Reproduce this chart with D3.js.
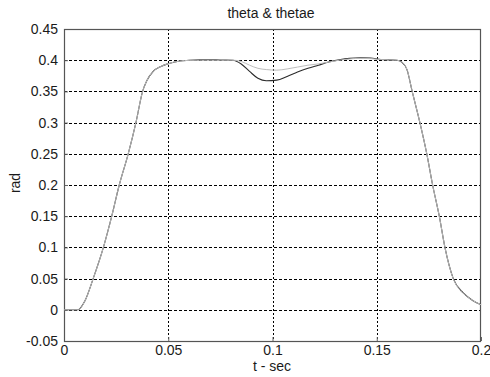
<!DOCTYPE html>
<html><head><meta charset="utf-8">
<script src="https://cdn.jsdelivr.net/npm/d3@7"></script>
<style>body{margin:0;background:#fff}text{font-family:"Liberation Sans",Arial,sans-serif;fill:#1a1a1a}</style>
</head><body><svg id="c" width="490" height="377"></svg>
<script>
const title = "theta & thetae";
const xLabel = "t - sec";
const yLabel = "rad";
const xTicks = [0, 0.05, 0.1, 0.15, 0.2];
const xTickLabels = ["0", "0.05", "0.1", "0.15", "0.2"];
const yTicks = [-0.05, 0, 0.05, 0.1, 0.15, 0.2, 0.25, 0.3, 0.35, 0.4, 0.45];
const yTickLabels = ["-0.05", "0", "0.05", "0.1", "0.15", "0.2", "0.25", "0.3", "0.35", "0.4", "0.45"];
const tValues = [0.0067, 0.0100, 0.0140, 0.0189, 0.0229, 0.0265, 0.0308, 0.0345, 0.0377, 0.0397, 0.0428, 0.0465, 0.0496, 0.0556, 0.060, 0.065, 0.070, 0.075, 0.081, 0.085, 0.089, 0.093, 0.097, 0.102, 0.107, 0.112, 0.117, 0.122, 0.127, 0.132, 0.137, 0.142, 0.147, 0.152, 0.1596, 0.162, 0.1645, 0.167, 0.1707, 0.174, 0.1768, 0.180, 0.1827, 0.1867, 0.1915, 0.196, 0.200];
const theta = [0, 0.014, 0.05, 0.10, 0.15, 0.20, 0.25, 0.30, 0.35, 0.367, 0.382, 0.390, 0.394, 0.3987, 0.3997, 0.4005, 0.4008, 0.4003, 0.400, 0.394, 0.382, 0.371, 0.367, 0.368, 0.374, 0.381, 0.387, 0.392, 0.397, 0.4005, 0.403, 0.404, 0.4035, 0.401, 0.400, 0.397, 0.385, 0.35, 0.30, 0.25, 0.20, 0.15, 0.10, 0.05, 0.027, 0.015, 0.008];
const thetae = [0, 0.014, 0.05, 0.10, 0.15, 0.20, 0.25, 0.30, 0.35, 0.367, 0.382, 0.390, 0.394, 0.3987, 0.3997, 0.400, 0.400, 0.400, 0.400, 0.398, 0.392, 0.387, 0.385, 0.384, 0.386, 0.389, 0.392, 0.394, 0.397, 0.400, 0.402, 0.403, 0.4025, 0.401, 0.400, 0.397, 0.385, 0.35, 0.30, 0.25, 0.20, 0.15, 0.10, 0.05, 0.027, 0.015, 0.008];
const tStart = [0, 0.0067];

const svg = d3.select("#c");
const m = {l: 64, r: 481, t: 29, b: 341};
const x = d3.scaleLinear().domain([0, 0.2]).range([m.l, m.r]);
const y = d3.scaleLinear().domain([-0.05, 0.45]).range([m.b, m.t]);

// grid
const g = svg.append("g");
g.selectAll(".gy").data(yTicks.slice(1, -1)).enter().append("line")
  .attr("x1", m.l).attr("x2", m.r).attr("y1", d => Math.round(y(d)) + 0.5).attr("y2", d => Math.round(y(d)) + 0.5)
  .attr("stroke", "#000").attr("stroke-width", 1).attr("stroke-dasharray", "3,2");
g.selectAll(".gx").data(xTicks.slice(1, -1)).enter().append("line")
  .attr("y1", m.t).attr("y2", m.b).attr("x1", d => Math.round(x(d)) + 0.5).attr("x2", d => Math.round(x(d)) + 0.5)
  .attr("stroke", "#000").attr("stroke-width", 1).attr("stroke-dasharray", "2,2");

// axes ticks
const ax = svg.append("g").attr("transform", `translate(0,${m.b})`)
  .call(d3.axisBottom(x).tickValues(xTicks).tickSize(-4).tickPadding(4).tickFormat((d, i) => xTickLabels[i]));
const ay = svg.append("g").attr("transform", `translate(${m.l},0)`)
  .call(d3.axisLeft(y).tickValues(yTicks).tickSize(-4).tickPadding(6).tickFormat((d, i) => yTickLabels[i]));
[ax, ay].forEach(a => {
  a.select(".domain").remove();
  a.selectAll(".tick line").attr("stroke", "#666");
  a.selectAll("text").style("font-size", "14px").attr("fill", "#1a1a1a");
});

// box
svg.append("rect").attr("x", m.l + 0.5).attr("y", m.t + 0.5).attr("width", m.r - m.l - 1).attr("height", m.b - m.t)
  .attr("fill", "none").attr("stroke", "#555").attr("stroke-width", 1.2);

// lines
const line = d3.line().x((d) => x(d[0])).y(d => y(d[1])).curve(d3.curveMonotoneX);
const data1 = [[tStart[0], 0]].concat(tValues.map((t, i) => [t, theta[i]]));
const data2 = [[tStart[0], 0]].concat(tValues.map((t, i) => [t, thetae[i]]));
svg.append("path").attr("d", line(data1)).attr("fill", "none").attr("stroke", "#2a2a2a").attr("stroke-width", 1.1);
svg.append("path").attr("d", line(data2)).attr("fill", "none").attr("stroke", "#bdbdbd").attr("stroke-width", 1);

// labels
svg.append("text").attr("x", 271).attr("y", 18).attr("text-anchor", "middle").style("font-size", "14px").text(title);
svg.append("text").attr("x", 272).attr("y", 371).attr("text-anchor", "middle").style("font-size", "14px").text(xLabel);
svg.append("text").attr("transform", "translate(20,183) rotate(-90)").attr("text-anchor", "middle").style("font-size", "14px").text(yLabel);
</script></body></html>
